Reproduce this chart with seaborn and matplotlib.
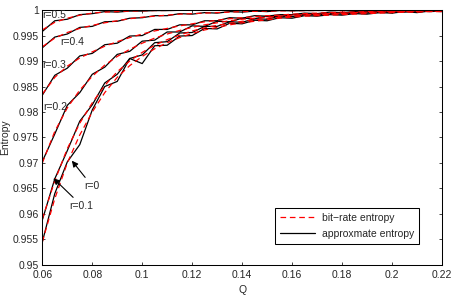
import matplotlib
matplotlib.use("Agg")
import matplotlib.pyplot as plt
import seaborn as sns
import pandas as pd
from matplotlib.lines import Line2D
from matplotlib.ticker import MultipleLocator, FuncFormatter

# Q grid shared by all curves
q_values = [0.06, 0.065, 0.07, 0.075, 0.08, 0.085, 0.09, 0.095, 0.10, 0.105,
            0.11, 0.115, 0.12, 0.125, 0.13, 0.135, 0.14, 0.145, 0.15, 0.155,
            0.16, 0.165, 0.17, 0.175, 0.18, 0.185, 0.19, 0.195, 0.20, 0.205,
            0.21, 0.215, 0.22]

r_values = [0, 0.1, 0.2, 0.3, 0.4, 0.5]

# bit-rate entropy (dashed red)
rate_r0 = [.9545, .9630, .9700, .9755, .9800, .9838, .9868, .9891, .9909, .9924,
           .9936, .9946, .9954, .9961, .9966, .9971, .9975, .9978, .9981, .9984,
           .9986, .9988, .9989, .9990, .9991, .9992, .9993, .9994, .9995, .9996,
           .9996, .9997, .9997]
rate_r01 = [.9590, .9665, .9728, .9778, .9818, .9852, .9879, .9900, .9917, .9931,
            .9942, .9951, .9959, .9965, .9970, .9974, .9978, .9981, .9984, .9986,
            .9988, .9990, .9991, .9992, .9993, .9994, .9995, .9996, .9996, .9997,
            .9997, .9998, .9998]
rate_r02 = [.9700, .9762, .9808, .9843, .9870, .9892, .9909, .9923, .9935, .9945,
            .9953, .9960, .9966, .9971, .9975, .9979, .9982, .9984, .9986, .9988,
            .9990, .9991, .9992, .9993, .9994, .9995, .9996, .9996, .9997, .9997,
            .9998, .9998, .9998]
rate_r03 = [.9835, .9868, .9890, .9906, .9918, .9929, .9938, .9946, .9953, .9959,
            .9964, .9969, .9973, .9977, .9980, .9983, .9985, .9987, .9989, .9990,
            .9992, .9993, .9994, .9995, .9996, .9996, .9997, .9997, .9998, .9998,
            .9999, .9999, .9999]
rate_r04 = [.9928, .9945, .9956, .9964, .9970, .9975, .9979, .9983, .9986, .9988,
            .9990, .9992, .9993, .9994, .9995, .9996, .9997, .99975, .9998, .99984,
            .99987, .9999, .99992, .99993, .99994, .99995, .99996, .99997, .99997, .99998,
            .99998, .99999, .99999]
rate_r05 = [.9961, .9976, .9984, .9990, .9994, .9996, .9997, .9998, .99985, .9999,
            .99992, .99994, .99995, .99996, .99997, .99997, .99998, .99998, .99998, .99999,
            .99999, .99999, .99999, 1.0, 1.0, 1.0, 1.0, 1.0, 1.0, 1.0,
            1.0, 1.0, 1.0]

# approximate entropy (solid black)
approx_r0 = [.9545, .9640, .9702, .9736, .9804, .9850, .9860, .9905, .9895, .9930,
             .9931, .9949, .9950, .9964, .9963, .9974, .9973, .9980, .9979, .9985,
             .9984, .9989, .9988, .9991, .9990, .9993, .9992, .9995, .9994, .9997,
             .9995, .9998, .9997]
approx_r01 = [.9588, .9669, .9724, .9782, .9814, .9857, .9874, .9905, .9912, .9936,
              .9938, .9955, .9956, .9968, .9968, .9977, .9976, .9983, .9982, .9988,
              .9987, .9991, .9990, .9993, .9992, .9995, .9994, .9997, .9995, .9998,
              .9996, .9999, .9998]
approx_r02 = [.9703, .9757, .9813, .9838, .9874, .9888, .9913, .9919, .9939, .9941,
              .9957, .9957, .9969, .9968, .9978, .9977, .9984, .9983, .9988, .9987,
              .9991, .9990, .9993, .9992, .9995, .9994, .9997, .9995, .9998, .9996,
              .9999, .9997, .9998]
approx_r03 = [.9833, .9872, .9886, .9910, .9915, .9932, .9935, .9949, .9950, .9962,
              .9962, .9971, .9971, .9979, .9979, .9985, .9984, .9989, .9988, .9991,
              .9991, .9994, .9993, .9996, .9995, .9997, .9996, .9998, .9997, .9999,
              .9998, .9999, .9999]
approx_r04 = [.9926, .9947, .9953, .9966, .9968, .9977, .9978, .9984, .9985, .9989,
              .9989, .9993, .9992, .9995, .9994, .9997, .9996, .9998, .9997, .9999,
              .99985, .9999, .99992, .99994, .99993, .99996, .99995, .99997, .99998, .99997,
              .99999, .99998, 1.0]
approx_r05 = [.9958, .9979, .9982, .9991, .9993, .9997, .9996, .9998, .9998, .9999,
              .9999, .99995, .99994, .99997, .99996, .99998, .99997, .99998, .99999, .99998,
              1.0, .99999, 1.0, 1.0, 1.0, 1.0, 1.0, 1.0, 1.0, 1.0,
              1.0, 1.0, 1.0]

rate_curves = [rate_r0, rate_r01, rate_r02, rate_r03, rate_r04, rate_r05]
approx_curves = [approx_r0, approx_r01, approx_r02, approx_r03, approx_r04, approx_r05]

rows = []
for r, rate, approx in zip(r_values, rate_curves, approx_curves):
    for q, a, b in zip(q_values, rate, approx):
        rows.append({"Q": q, "r": r, "kind": "rate", "entropy": a})
        rows.append({"Q": q, "r": r, "kind": "approx", "entropy": b})
df = pd.DataFrame(rows)

sns.set_theme(style="ticks")
plt.rcParams.update({
    "font.family": ["Liberation Sans", "DejaVu Sans"],
    "font.size": 7.5,
    "axes.labelsize": 7.5,
    "xtick.labelsize": 7.5,
    "ytick.labelsize": 7.5,
    "legend.fontsize": 7.5,
    "xtick.direction": "in",
    "ytick.direction": "in",
    "xtick.top": True,
    "ytick.right": True,
    "xtick.bottom": True,
    "ytick.left": True,
    "xtick.major.size": 2.5,
    "ytick.major.size": 2.5,
    "xtick.major.width": 0.6,
    "ytick.major.width": 0.6,
    "axes.linewidth": 0.75,
    "axes.edgecolor": "black",
})

fig = plt.figure(figsize=(4.51, 2.96), dpi=100)
ax = fig.add_axes([0.0938, 0.105, 0.886, 0.861])

sns.lineplot(data=df[df["kind"] == "approx"], x="Q", y="entropy", units="r",
             estimator=None, sort=False, color="black", lw=0.9, legend=False, ax=ax)
sns.lineplot(data=df[df["kind"] == "rate"], x="Q", y="entropy", units="r",
             estimator=None, sort=False, color="red", lw=0.9,
             linestyle=(0, (4.5, 3)), legend=False, ax=ax)

ax.set_xlim(0.06, 0.22)
ax.set_ylim(0.95, 1.0)
ax.xaxis.set_major_locator(MultipleLocator(0.02))
ax.yaxis.set_major_locator(MultipleLocator(0.005))
fmt = FuncFormatter(lambda v, pos: "%g" % round(v, 4))
ax.xaxis.set_major_formatter(fmt)
ax.yaxis.set_major_formatter(fmt)
ax.tick_params(axis="y", pad=2.5)
ax.tick_params(axis="x", pad=4)

ax.set_xlabel("Q", labelpad=3)
ax.set_ylabel("Entropy")
ax.yaxis.set_label_coords(-0.08, 0.5)

ax.text(0.0601, 0.9990, "r=0.5", va="center")
ax.text(0.0671, 0.99373, "r=0.4", va="center")
ax.text(0.0601, 0.98922, "r=0.3", va="center")
ax.text(0.0603, 0.98104, "r=0.2", va="center")

arrow = dict(arrowstyle="-|>", color="black", lw=0.8, mutation_scale=9,
             shrinkA=0, shrinkB=0)
ax.annotate("r=0", xy=(0.07183, 0.97045), xytext=(0.0798, 0.96555),
            ha="center", va="center", arrowprops=arrow)
ax.annotate("r=0.1", xy=(0.06443, 0.9670), xytext=(0.07577, 0.96163),
            ha="center", va="center", arrowprops=arrow)

handles = [Line2D([], [], color="red", lw=0.9, linestyle=(0, (4.5, 3))),
           Line2D([], [], color="black", lw=0.9)]
leg = ax.legend(handles, ["bit\u2212rate entropy", "approxmate entropy"],
                loc="lower right", bbox_to_anchor=(0.956, 0.062),
                fancybox=False, edgecolor="black", framealpha=1,
                handlelength=3.4, borderpad=0.5, labelspacing=0.55,
                handletextpad=0.6)
leg.get_frame().set_linewidth(0.75)

fig.savefig("out.png", dpi=100)
